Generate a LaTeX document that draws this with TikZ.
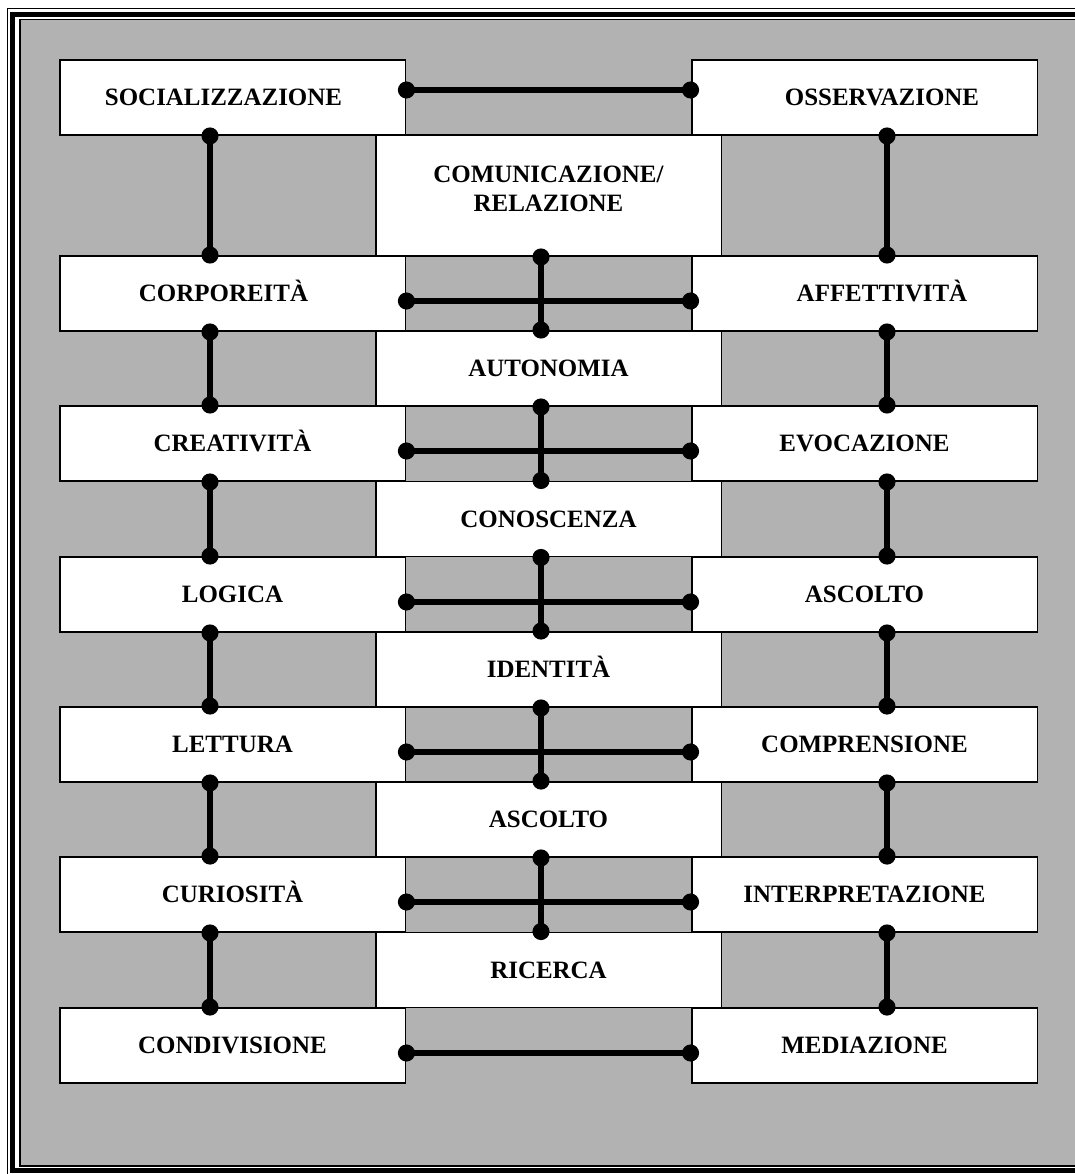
\documentclass[tikz,border=0pt]{standalone}
\usepackage{fontspec}
\setmainfont{Liberation Serif}
\usetikzlibrary{arrows.meta}

\tikzset{
	box/.style={draw=black, fill=white, line width=1.1pt, minimum width=6.92cm, minimum height=1.5cm, inner sep=0pt,
		font=\fontsize{14.2}{16.4}\selectfont\bfseries, align=center, text height=9.4pt, text depth=0pt},
	tall/.style={minimum height=2.42cm},
	lbl/.style={inner sep=0pt, align=center, font=\fontsize{14.2}{16.4}\selectfont\bfseries},
	link/.style={line width=2.9pt, {Circle[length=0.34cm]}-{Circle[length=0.34cm]}, shorten <=-0.17cm, shorten >=-0.17cm},
}

\begin{document}
\begin{tikzpicture}[x=0.02cm, y=-0.02cm]
	\useasboundingbox (0,0) rectangle (1075,1174);
	\clip (0,0) rectangle (1075,1174);
	% frame
	\fill[white] (0,0) rectangle (1075,1174);
	\draw[line width=0.8pt] (7.5,8.5) rectangle (1090,1177);
	\draw[line width=2.8pt] (12.5,14.5) rectangle (1084,1170.5);
	\filldraw[fill=black!30, line width=1pt] (20,19.5) rectangle (1075.5,1166);

	% first row
	\node[box] (soc) at (232.5,97.5) {};
	\node[lbl] (socT) at ([xshift=-0.18cm]soc.center) {SOCIALIZZAZIONE};
	\node[box] (oss) at (864.5,97.5) {};
	\node[lbl] (ossT) at ([xshift=0.35cm]oss.center) {OSSERVAZIONE};
	\node[box, tall] (com) at (548.5,195.5) {};
	\node[lbl] (comT) at ([yshift=0.14cm]com.center) {COMUNICAZIONE/\\RELAZIONE};

	% left and right columns
	\node[box] (corp) at (232.5,293.5) {};
	\node[lbl, text height=9.4pt, text depth=0pt] (corpT) at ([xshift=-0.18cm]corp.center) {CORPOREITÀ};
	\node[box] (affe) at (864.5,293.5) {};
	\node[lbl, text height=9.4pt, text depth=0pt] (affeT) at ([xshift=0.35cm]affe.center) {AFFETTIVITÀ};
	\node[box] (crea) at (232.5,443.5) {CREATIVITÀ};
	\node[box] (evoc) at (864.5,443.5) {EVOCAZIONE};
	\node[box] (logi) at (232.5,594.5) {LOGICA};
	\node[box] (ascR) at (864.5,594.5) {ASCOLTO};
	\node[box] (lett) at (232.5,744.5) {LETTURA};
	\node[box] (compr) at (864.5,744.5) {COMPRENSIONE};
	\node[box] (curi) at (232.5,894.5) {CURIOSITÀ};
	\node[box] (interp) at (864.5,894.5) {INTERPRETAZIONE};
	\node[box] (cond) at (232.5,1045.5) {CONDIVISIONE};
	\node[box] (medi) at (864.5,1045.5) {MEDIAZIONE};

	% middle column
	\node[box] (auto) at (548.5,368.5) {AUTONOMIA};
	\node[box] (cono) at (548.5,519) {CONOSCENZA};
	\node[box] (iden) at (548.5,669.5) {IDENTITÀ};
	\node[box] (ascC) at (548.5,819.5) {ASCOLTO};
	\node[box] (rice) at (548.5,970) {RICERCA};

	% horizontal links
	\draw[link] ([yshift=0.15cm]soc.east) -- ([yshift=0.15cm]oss.west);
	\draw[link] ([yshift=-0.15cm]corp.east) -- ([yshift=-0.15cm]affe.west);
	\draw[link] ([yshift=-0.15cm]crea.east) -- ([yshift=-0.15cm]evoc.west);
	\draw[link] ([yshift=-0.15cm]logi.east) -- ([yshift=-0.15cm]ascR.west);
	\draw[link] ([yshift=-0.15cm]lett.east) -- ([yshift=-0.15cm]compr.west);
	\draw[link] ([yshift=-0.15cm]curi.east) -- ([yshift=-0.15cm]interp.west);
	\draw[link] ([yshift=-0.15cm]cond.east) -- ([yshift=-0.15cm]medi.west);

	% left column links
	\draw[link] ([xshift=-0.45cm]soc.south) -- ([xshift=-0.45cm]corp.north);
	\draw[link] ([xshift=-0.45cm]corp.south) -- ([xshift=-0.45cm]crea.north);
	\draw[link] ([xshift=-0.45cm]crea.south) -- ([xshift=-0.45cm]logi.north);
	\draw[link] ([xshift=-0.45cm]logi.south) -- ([xshift=-0.45cm]lett.north);
	\draw[link] ([xshift=-0.45cm]lett.south) -- ([xshift=-0.45cm]curi.north);
	\draw[link] ([xshift=-0.45cm]curi.south) -- ([xshift=-0.45cm]cond.north);

	% right column links
	\draw[link] ([xshift=0.45cm]oss.south) -- ([xshift=0.45cm]affe.north);
	\draw[link] ([xshift=0.45cm]affe.south) -- ([xshift=0.45cm]evoc.north);
	\draw[link] ([xshift=0.45cm]evoc.south) -- ([xshift=0.45cm]ascR.north);
	\draw[link] ([xshift=0.45cm]ascR.south) -- ([xshift=0.45cm]compr.north);
	\draw[link] ([xshift=0.45cm]compr.south) -- ([xshift=0.45cm]interp.north);
	\draw[link] ([xshift=0.45cm]interp.south) -- ([xshift=0.45cm]medi.north);

	% middle column links
	\draw[link] ([xshift=-0.15cm]com.south) -- ([xshift=-0.15cm]auto.north);
	\draw[link] ([xshift=-0.15cm]auto.south) -- ([xshift=-0.15cm]cono.north);
	\draw[link] ([xshift=-0.15cm]cono.south) -- ([xshift=-0.15cm]iden.north);
	\draw[link] ([xshift=-0.15cm]iden.south) -- ([xshift=-0.15cm]ascC.north);
	\draw[link] ([xshift=-0.15cm]ascC.south) -- ([xshift=-0.15cm]rice.north);
\end{tikzpicture}
\end{document}
